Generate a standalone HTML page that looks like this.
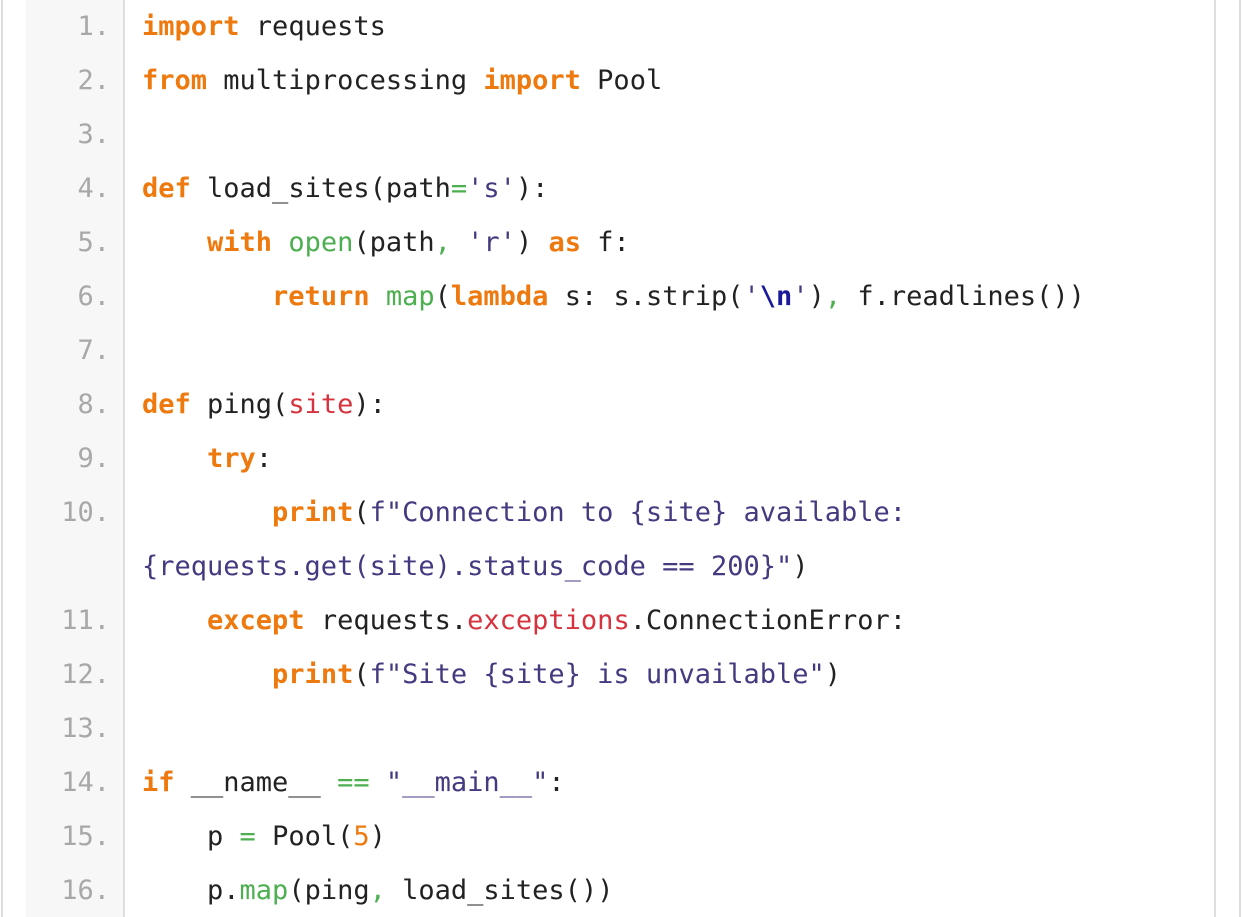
<!DOCTYPE html>
<html><head><meta charset="utf-8"><style>
html,body{margin:0;padding:0;background:#fff;width:1242px;height:917px;overflow:hidden;position:relative}
.vl{position:absolute;top:0;height:917px;width:2px;background:#dedede}
.gut{position:absolute;left:26px;top:0;width:97px;height:917px;background:#f7f7f7;border-right:2px solid #dedede}
.w{position:absolute;left:0;top:2px;width:1242px;height:917px}
.ln{position:absolute;left:26px;width:84px;text-align:right;color:#a8a8a8;font:27px/54px "DejaVu Sans Mono","Liberation Mono",monospace}
.cd{position:absolute;left:142px;white-space:pre;color:#222;font:27px/54px "DejaVu Sans Mono","Liberation Mono",monospace}
.k{color:#ee7a0f;font-weight:bold}
.s{color:#433a80}
.g{color:#4caf50}
.r{color:#d6333f}
.n{color:#ee7a0f}
.e{color:#1a1a9a;font-weight:bold}
</style></head><body>
<div class="vl" style="left:1px"></div>
<div class="gut"></div>
<div class="vl" style="left:1214px"></div>
<div class="vl" style="left:1239px"></div>
<div class="w">
<div class="ln" style="top:-2px">1.</div>
<div class="ln" style="top:52px">2.</div>
<div class="ln" style="top:106px">3.</div>
<div class="ln" style="top:160px">4.</div>
<div class="ln" style="top:214px">5.</div>
<div class="ln" style="top:268px">6.</div>
<div class="ln" style="top:322px">7.</div>
<div class="ln" style="top:376px">8.</div>
<div class="ln" style="top:430px">9.</div>
<div class="ln" style="top:484px">10.</div>
<div class="ln" style="top:592px">11.</div>
<div class="ln" style="top:646px">12.</div>
<div class="ln" style="top:700px">13.</div>
<div class="ln" style="top:754px">14.</div>
<div class="ln" style="top:808px">15.</div>
<div class="ln" style="top:862px">16.</div>

<div class="cd" style="top:-2px"><span class="k">import</span> requests</div>
<div class="cd" style="top:52px"><span class="k">from</span> multiprocessing <span class="k">import</span> Pool</div>
<div class="cd" style="top:160px"><span class="k">def</span> load_sites(path<span class="g">=</span><span class="s">'s'</span>):</div>
<div class="cd" style="top:214px">    <span class="k">with</span> <span class="g">open</span>(path<span class="g">,</span> <span class="s">'r'</span>) <span class="k">as</span> f:</div>
<div class="cd" style="top:268px">        <span class="k">return</span> <span class="g">map</span>(<span class="k">lambda</span> s: s.strip(<span class="s">'</span><span class="e">\n</span><span class="s">'</span>)<span class="g">,</span> f.readlines())</div>
<div class="cd" style="top:376px"><span class="k">def</span> ping(<span class="r">site</span>):</div>
<div class="cd" style="top:430px">    <span class="k">try</span>:</div>
<div class="cd" style="top:484px">        <span class="k">print</span>(<span class="s">f"Connection to {site} available:</span></div>
<div class="cd" style="top:538px"><span class="s">{requests.get(site).status_code == 200}"</span>)</div>
<div class="cd" style="top:592px">    <span class="k">except</span> requests.<span class="r">exceptions</span>.ConnectionError:</div>
<div class="cd" style="top:646px">        <span class="k">print</span>(<span class="s">f"Site {site} is unvailable"</span>)</div>
<div class="cd" style="top:754px"><span class="k">if</span> __name__ <span class="g">==</span> <span class="s">"__main__"</span>:</div>
<div class="cd" style="top:808px">    p <span class="g">=</span> Pool(<span class="n">5</span>)</div>
<div class="cd" style="top:862px">    p.<span class="g">map</span>(ping<span class="g">,</span> load_sites())</div>
</div>
</body></html>
